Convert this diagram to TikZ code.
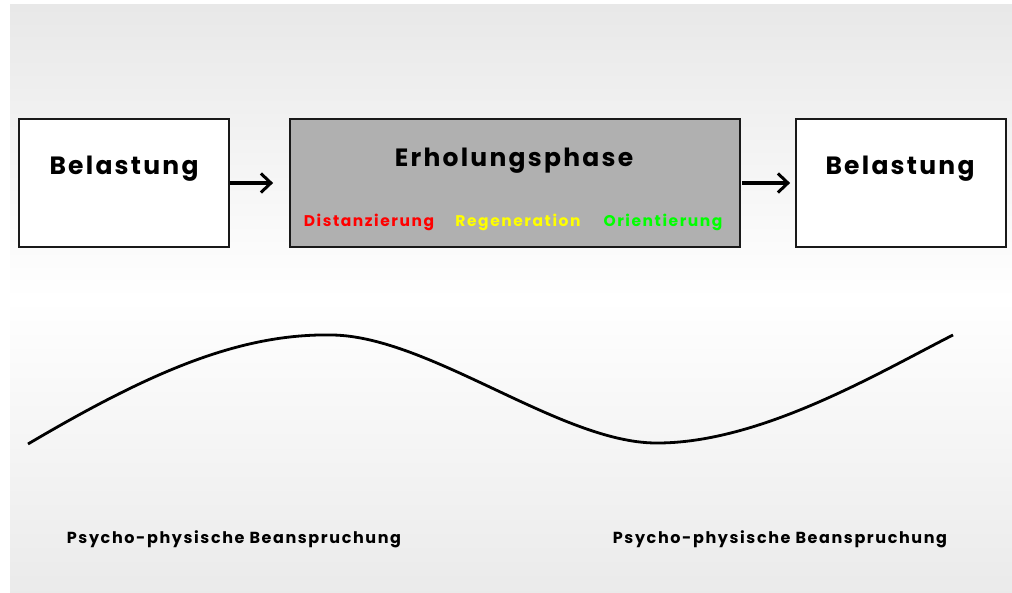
\documentclass[tikz,border=0pt]{standalone}
\usepackage{fontspec}
\setmainfont{Poppins}
\usetikzlibrary{arrows.meta}
\definecolor{boxgray}{HTML}{B0B0B0}
\definecolor{bggray}{HTML}{E8E8E8}
\definecolor{wordred}{HTML}{FF0000}
\definecolor{wordyellow}{HTML}{FFFF00}
\definecolor{wordgreen}{HTML}{00FF00}
\begin{document}
\begin{tikzpicture}[x=1pt,y=-1pt,
  phase box/.style={draw=black!90,line width=1.8pt,minimum width=210pt,minimum height=128pt,inner sep=0pt},
  head/.style={font=\fontsize{25}{30}\selectfont\bfseries\addfontfeatures{LetterSpace=9}},
  word/.style={font=\fontsize{15.5}{18}\selectfont\bfseries\addfontfeatures{LetterSpace=10}},
  caption/.style={font=\fontsize{16}{19}\selectfont\bfseries\addfontfeatures{LetterSpace=10}},
  flow/.style={-{Straight Barb[length=10pt,width=19pt,line width=3pt]},line width=3.2pt}]

  \useasboundingbox (0,0) rectangle (1012,593);
  \shade[top color=bggray,bottom color=bggray!90,middle color=white] (10,5) rectangle (1012,593);

  % boxes
  \node[phase box,fill=white] (b1) at (124,183) {};
  \node[phase box,fill=boxgray,minimum width=450pt] (e) at (515,183) {};
  \node[phase box,fill=white] (b2) at (901,183) {};

  \node[head] (t1) at (124,169) {Belastung};
  \node[head] (t2) at (514,161) {Erholungsphase};
  \node[head] (t3) at (900,169) {Belastung};

  \node[word,text=wordred] (w1) at (369,222) {Distanzierung};
  \node[word,text=wordyellow] (w2) at (518,222) {Regeneration};
  \node[word,text=wordgreen] (w3) at (663,222) {Orientierung};

  % arrows
  \draw[flow,shorten >=16pt] (b1.east) -- (e.west);
  \draw[flow,shorten <=1pt,shorten >=5pt] (e.east) -- (b2.west);

  % load curve
  \draw[line width=2.8pt]
    (28,444) .. controls (150,372) and (240,333) .. (333,335)
    .. controls (430,337) and (560,442) .. (655,443)
    .. controls (760,444) and (880,372) .. (953,335);

  \node[caption] (c1) at (234,539) {Psycho-physische Beanspruchung};
  \node[caption] (c2) at (780,539) {Psycho-physische Beanspruchung};
\end{tikzpicture}
\end{document}
